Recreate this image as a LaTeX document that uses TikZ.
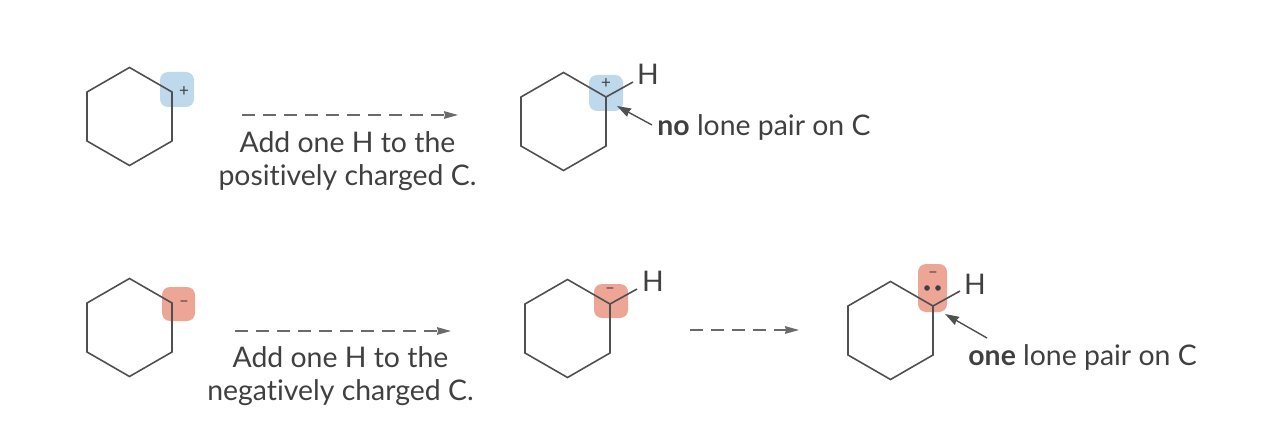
\documentclass[tikz,border=0pt]{standalone}
\usepackage{fontspec}
\setmainfont[Ligatures=NoCommon]{Lato}
\usetikzlibrary{arrows.meta}
\definecolor{bondgray}{HTML}{505050}
\definecolor{inkgray}{HTML}{404040}
\definecolor{plusblue}{HTML}{BDD9EB}
\definecolor{minusred}{HTML}{EDA596}
\tikzset{
  bond/.style={draw=bondgray,line width=0.8pt,line join=miter},
  chargebox/.style={rounded corners=4pt},
  charge/.style={text=inkgray,font=\fontsize{8.5}{8.5}\selectfont,inner sep=0pt},
  label/.style={text=inkgray,font=\fontsize{14.2}{16.5}\selectfont,inner sep=0pt},
  dasharrow/.style={draw=bondgray!85,line width=0.6pt,dash pattern=on 6.5pt off 4pt,-{Stealth[length=7pt,width=3.8pt,inset=0.5pt]}},
  pointer/.style={draw=bondgray,line width=0.7pt,-{Stealth[length=7pt,width=4.6pt,inset=0.5pt]}}
}
\begin{document}
\begin{tikzpicture}[x=0.5pt,y=-0.5pt]
\useasboundingbox (0,0) rectangle (1278,438);
% shaded carbons
\fill[plusblue,chargebox] (160,72) rectangle (194,107);
\fill[plusblue,chargebox] (589,75) rectangle (623,111);
\fill[minusred,chargebox] (162,287) rectangle (195,321);
\fill[minusred,chargebox] (594,284) rectangle (628,318);
\fill[minusred,chargebox] (918,264) rectangle (947,312);
% rings, named by their right upper carbon
\foreach \Ring/\PointX/\PointY in {a/172/92, b/606/97, c/172/303, d/610/304, e/933/306}
\draw[bond] (\PointX,\PointY) coordinate (\Ring C) -- ++(0,49) -- ++(-42.5,24.5) -- ++(-42.5,-24.5) -- ++(0,-49) -- ++(42.5,-24.5) -- cycle;
% hydrogens
\node [label] (bH) at (648,74) {H};
\node [label] (dH) at (653,281) {H};
\node [label] (eH) at (975,284) {H};
\coordinate (bEnd) at (633,82);
\coordinate (dEnd) at (637,289);
\coordinate (eEnd) at (960,291);
\draw[bond] (bC) -- (bEnd);
\draw[bond] (dC) -- (dEnd);
\draw[bond] (eC) -- (eEnd);
% charges
\node [charge] (aPlus) at (184,92) {+};
\node [charge] (bPlus) at (606,84) {+};
\node [charge] (cMinus) at (184,304) {–};
\node [charge] (dMinus) at (610,291) {–};
\node [charge] (eMinus) at (933,275) {–};
\foreach \Point in {(927,288),(938,288)}
\fill[inkgray] \Point circle (1.4pt);
% reaction arrows
\coordinate (topFrom) at (242,115);
\coordinate (topTo) at (458,115);
\coordinate (lowFrom) at (235,331);
\coordinate (lowTo) at (451,331);
\coordinate (nextFrom) at (690,330);
\coordinate (nextTo) at (799,330);
\draw[dasharrow] (topFrom) -- (topTo);
\draw[dasharrow] (lowFrom) -- (lowTo);
\draw[dasharrow] (nextFrom) -- (nextTo);
\node [label,align=center] (topText) at (347.5,161) {Add one H to the\\positively charged C.};
\node [label,align=center] (lowText) at (340.5,376) {Add one H to the\\negatively charged C.};
% lone pair notes
\node [label,anchor=west] (noNote) at (657,127) {\textbf{no} lone pair on C};
\node [label,anchor=west] (oneNote) at (968,357) {\textbf{one} lone pair on C};
\coordinate (noFrom) at (652,125);
\coordinate (noTip) at (617,106);
\coordinate (oneFrom) at (987,338);
\coordinate (oneTip) at (945,314);
\draw[pointer] (noFrom) -- (noTip);
\draw[pointer] (oneFrom) -- (oneTip);
\end{tikzpicture}
\end{document}
